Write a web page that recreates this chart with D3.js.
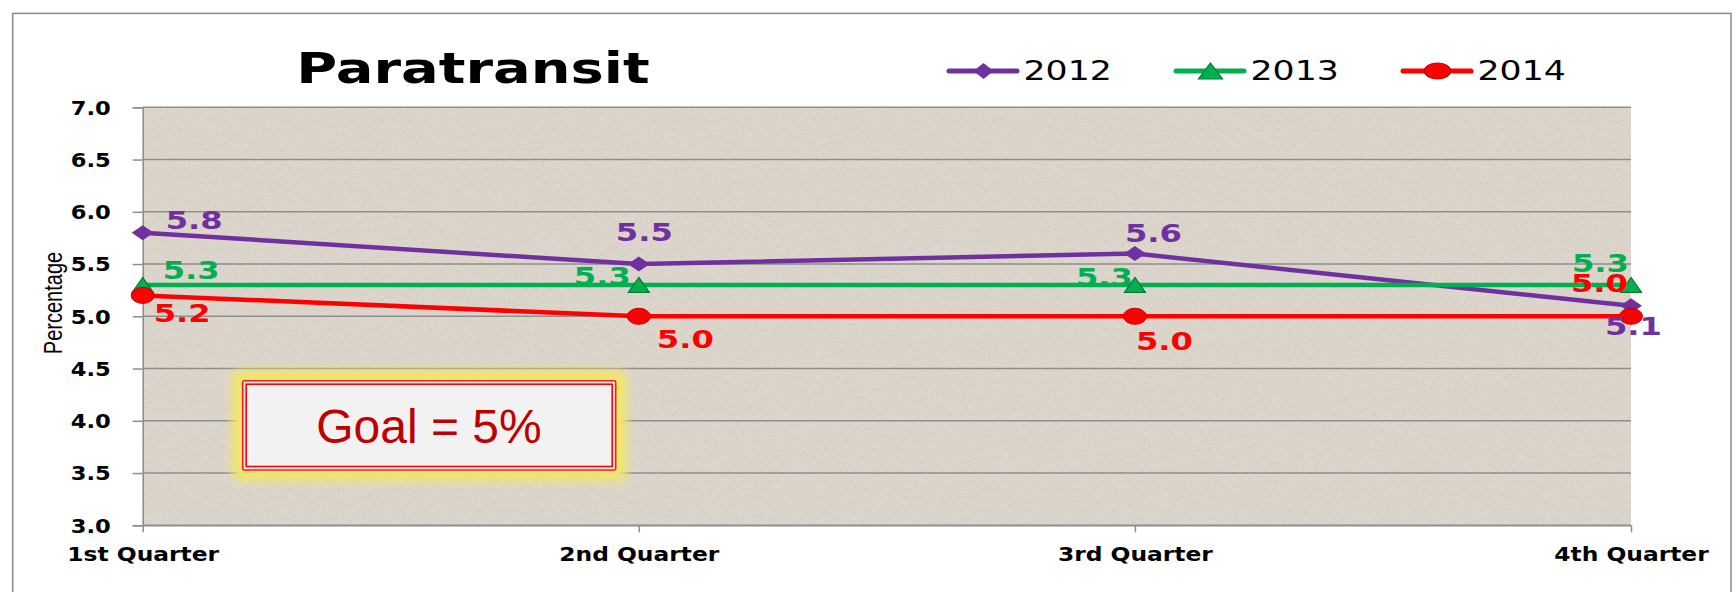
<!DOCTYPE html>
<html>
<head>
<meta charset="utf-8">
<script src="https://cdn.jsdelivr.net/npm/d3@7"></script>
<style>
  body { margin: 0; background: #fff; }
  svg { display: block; }
</style>
</head>
<body>
<svg id="chart" width="1736" height="592"></svg>
<script>
// data
const quarters = ['1st Quarter', '2nd Quarter', '3rd Quarter', '4th Quarter'];
const years = ['2012', '2013', '2014'];
const v2012 = [5.8, 5.5, 5.6, 5.1];
const v2013 = [5.3, 5.3, 5.3, 5.3];
const v2014 = [5.2, 5.0, 5.0, 5.0];
const yTicks = [3.0, 3.5, 4.0, 4.5, 5.0, 5.5, 6.0, 6.5, 7.0];

const plotLeft = 142.7, plotRight = 1631, plotTop = 107.3, plotBottom = 525.3;

const svg = d3.select('#chart');
const defs = svg.append('defs');

// speckle texture for the plot area
const noise = defs.append('filter').attr('id', 'noise')
  .attr('x', 0).attr('y', 0).attr('width', '100%').attr('height', '100%');
noise.append('feTurbulence').attr('type', 'fractalNoise')
  .attr('baseFrequency', 0.85).attr('numOctaves', 2).attr('seed', 7);
noise.append('feColorMatrix').attr('type', 'matrix')
  .attr('values', '0 0 0 0 0.45  0 0 0 0 0.42  0 0 0 0 0.38  3.2 0 0 0 -1.7');

const glow = defs.append('filter').attr('id', 'glow')
  .attr('x', '-20%').attr('y', '-40%').attr('width', '140%').attr('height', '180%');
glow.append('feGaussianBlur').attr('stdDeviation', 5);

// outer frame
svg.append('rect')
  .attr('x', 12.7).attr('y', 13.4)
  .attr('width', 1731 - 12.7).attr('height', 620)
  .attr('fill', '#fff').attr('stroke', '#8a8a8a').attr('stroke-width', 1.5);

const x = d3.scalePoint().domain(quarters).range([plotLeft, plotRight]);
const y = d3.scaleLinear().domain([3, 7]).range([plotBottom, plotTop]);

// plot background
svg.append('rect')
  .attr('x', plotLeft).attr('y', plotTop)
  .attr('width', plotRight - plotLeft).attr('height', plotBottom - plotTop)
  .attr('fill', '#ddd6cc');
svg.append('rect')
  .attr('x', plotLeft).attr('y', plotTop)
  .attr('width', plotRight - plotLeft).attr('height', plotBottom - plotTop)
  .attr('filter', 'url(#noise)').attr('opacity', 0.45);

// gridlines
svg.append('g').selectAll('line')
  .data(yTicks)
  .enter()
  .append('line')
  .attr('x1', plotLeft).attr('x2', plotRight)
  .attr('y1', d => y(d)).attr('y2', d => y(d))
  .attr('stroke', '#8e8e8e').attr('stroke-width', 1.5);

// y axis
const yAxis = svg.append('g')
  .attr('transform', `translate(${plotLeft},0)`)
  .call(d3.axisLeft(y).tickValues(yTicks).tickFormat(d3.format('.1f')).tickSize(10));
yAxis.select('.domain').attr('stroke', '#8e8e8e').attr('stroke-width', 1.5);
yAxis.selectAll('.tick line').attr('stroke', '#8e8e8e').attr('stroke-width', 1.5);
yAxis.selectAll('.tick text')
  .attr('x', 0).attr('dy', '0.36em')
  .attr('transform', 'translate(-32,0) scale(1.19,1)')
  .style('font-family', 'DejaVu Sans').style('font-weight', 'bold')
  .style('font-size', '19px').attr('fill', '#000');

// x axis
const xAxis = svg.append('g')
  .attr('transform', `translate(0,${plotBottom})`)
  .call(d3.axisBottom(x).tickSize(7).tickSizeOuter(0));
xAxis.select('.domain').attr('stroke', '#8e8e8e').attr('stroke-width', 1.5);
xAxis.selectAll('.tick line').attr('stroke', '#8e8e8e').attr('stroke-width', 1.5);
xAxis.selectAll('.tick text')
  .attr('y', 35.4).attr('dy', 0)
  .attr('transform', 'scale(1.23,1)')
  .style('font-family', 'DejaVu Sans').style('font-weight', 'bold')
  .style('font-size', '19px').attr('fill', '#000');

// title and y label
svg.append('text')
  .attr('transform', 'translate(473,83.3) scale(1.3,1)')
  .attr('text-anchor', 'middle')
  .style('font-family', 'DejaVu Sans').style('font-weight', 'bold').style('font-size', '43px')
  .text('Paratransit');

svg.append('text')
  .attr('transform', 'translate(62,303) scale(1.3,1) rotate(-90)')
  .attr('text-anchor', 'middle')
  .style('font-family', 'Liberation Sans').style('font-size', '20px')
  .text('Percentage');

// goal box
const goal = svg.append('g');
goal.append('rect')
  .attr('x', 232).attr('y', 370).attr('width', 395).attr('height', 111).attr('rx', 8)
  .attr('fill', '#f1e66a').attr('filter', 'url(#glow)');
goal.append('rect')
  .attr('x', 242.7).attr('y', 380.7).attr('width', 373).attr('height', 89.3).attr('rx', 1.5)
  .attr('fill', '#fbe9e9').attr('stroke', '#ff1a1a').attr('stroke-width', 1.6);
goal.append('rect')
  .attr('x', 246.2).attr('y', 384.2).attr('width', 366).attr('height', 82.3)
  .attr('fill', '#f2f2f2').attr('stroke', '#ff0000').attr('stroke-width', 1.6);
goal.append('text')
  .attr('x', 429).attr('y', 442.7).attr('text-anchor', 'middle')
  .style('font-family', 'Liberation Sans').style('font-size', '48px')
  .attr('fill', '#c00000')
  .text('Goal = 5%');

// series
const series = [
  { name: years[0], values: v2012, color: '#7030a0', shape: 'diamond',
    labels: [[23, -3.5], [-23, -23.5], [-10, -12], [-26, 29]] },
  { name: years[1], values: v2013, color: '#00b050', shape: 'triangle',
    labels: [[20, -6], [-65, 0.5], [-59, 1.5], [-59, -13.4]] },
  { name: years[2], values: v2014, color: '#ff0000', shape: 'circle',
    labels: [[11, 27], [18, 31.5], [1, 34], [-60, -24]] }
];

function marker(g, shape, color, w, h) {
  if (shape === 'circle') {
    g.append('ellipse').attr('rx', w / 2).attr('ry', h / 2)
      .attr('fill', color).attr('stroke', '#c00000').attr('stroke-width', 1);
  } else if (shape === 'triangle') {
    g.append('path')
      .attr('d', `M0,${-h / 2}L${w / 2},${h / 2}L${-w / 2},${h / 2}Z`)
      .attr('fill', color).attr('stroke', '#007a2e').attr('stroke-width', 1.2);
  } else {
    g.append('path')
      .attr('d', `M0,${-h / 2}L${w / 2},0L0,${h / 2}L${-w / 2},0Z`)
      .attr('fill', color);
  }
}

const line = d3.line()
  .x((d, i) => x(quarters[i]))
  .y(d => y(d));

series.forEach(s => {
  svg.append('path')
    .datum(s.values)
    .attr('d', line)
    .attr('fill', 'none')
    .attr('stroke', s.color)
    .attr('stroke-width', 4.5)
    .attr('stroke-linejoin', 'round');

  svg.append('g').selectAll('g')
    .data(s.values)
    .enter()
    .append('g')
    .attr('transform', (d, i) => `translate(${x(quarters[i])},${y(d)})`)
    .each(function () {
      const sz = s.shape === 'diamond' ? [22, 15] : s.shape === 'triangle' ? [21, 15] : [23, 16];
      marker(d3.select(this), s.shape, s.color, sz[0], sz[1]);
    });
});

// data labels on top
series.forEach(s => {
  svg.append('g').selectAll('text')
    .data(s.values)
    .enter()
    .append('text')
    .attr('transform', (d, i) =>
      `translate(${x(quarters[i]) + s.labels[i][0]},${y(d) + s.labels[i][1]}) scale(1.34,1)`)
    .style('font-family', 'DejaVu Sans').style('font-weight', 'bold').style('font-size', '24px')
    .attr('fill', s.color)
    .text(d => d.toFixed(1));
});

// legend
const legend = svg.append('g').attr('transform', 'translate(949,71)');
const entry = legend.selectAll('g')
  .data(series)
  .enter()
  .append('g')
  .attr('transform', (d, i) => `translate(${i * 227},0)`);
entry.append('line')
  .attr('x1', 0).attr('x2', 68)
  .attr('stroke', d => d.color).attr('stroke-width', 5).attr('stroke-linecap', 'round');
entry.append('g')
  .attr('transform', 'translate(34.5,0)')
  .each(function (d) {
    const sz = d.shape === 'diamond' ? [20, 16] : d.shape === 'triangle' ? [24, 16] : [27, 16];
    marker(d3.select(this), d.shape, d.color, sz[0], sz[1]);
  });
entry.append('text')
  .attr('transform', 'translate(74.5,9) scale(1.31,1)')
  .style('font-family', 'DejaVu Sans').style('font-size', '26.5px')
  .attr('fill', '#000')
  .text(d => d.name);
</script>
</body>
</html>
